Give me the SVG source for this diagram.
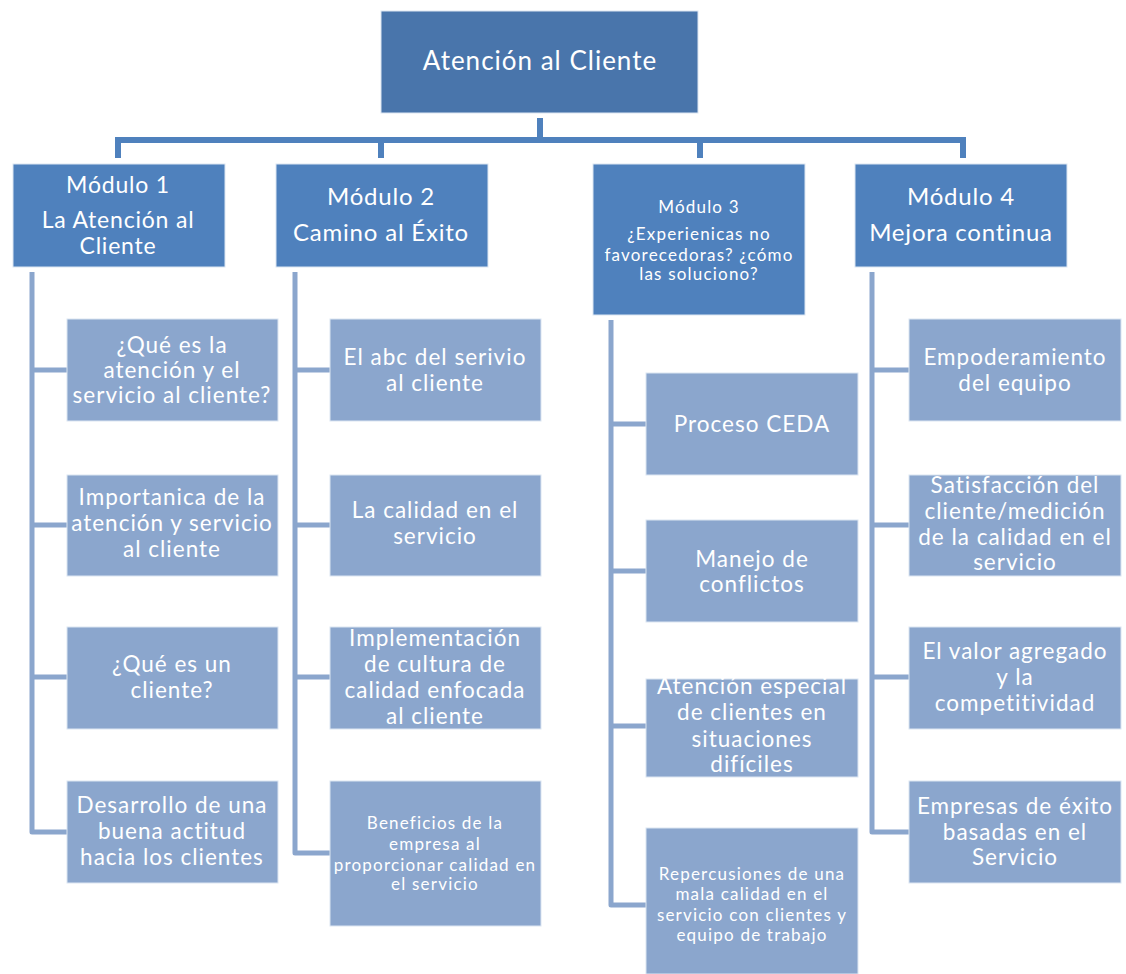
<svg xmlns="http://www.w3.org/2000/svg" width="1126" height="974" viewBox="0 0 1126 974">
<style>
.root{fill:#4975AB;stroke:#DCE6F2;stroke-width:1}
.mod{fill:#4F81BD;stroke:#DCE6F2;stroke-width:1}
.leaf{fill:#8BA6CD;stroke:#DCE6F2;stroke-width:1}
text{font-family:Lato,"Liberation Sans",sans-serif;fill:#FFFFFF;text-anchor:middle}
.t0{font-size:26px;letter-spacing:1px}
.tm{font-size:24px;letter-spacing:0.8px}
.tm1{font-size:23px;letter-spacing:0.8px}
.tm3{font-size:17px;letter-spacing:1.2px}
.tl{font-size:22.5px;letter-spacing:1px}
.ts{font-size:17px;letter-spacing:1.2px}
.c1{fill:none;stroke:#4F81BD;stroke-width:6}
.c2{fill:none;stroke:#8BA6CD;stroke-width:5;stroke-linejoin:round}
</style>
<rect width="1126" height="974" fill="#FFFFFF"/>
<g id="connectors">
<path class="c1" d="M540 118 V140 M118 158 V140 H963 V158 M381 140 V158 M700 140 V158"/>
<path class="c2" d="M32 272 V832 H67 M32 370 H67 M32 525 H67 M32 677 H67"/>
<path class="c2" d="M295 272 V853 H330 M295 370 H330 M295 525 H330 M295 677 H330"/>
<path class="c2" d="M611 320 V905 H646 M611 424 H646 M611 571 H646 M611 726 H646"/>
<path class="c2" d="M872 272 V832 H909 M872 370 H909 M872 525 H909 M872 677 H909"/>
</g>
<g id="root"><rect class="root" x="381" y="11" width="317" height="102"/><text class="t0" x="540" y="70">Atención al Cliente</text></g>
<g id="m1"><rect class="mod" x="13" y="164" width="212" height="103"/><text class="tm1" x="118" y="193">Módulo 1</text><text class="tm1" x="118" y="228">La Atención al</text><text class="tm1" x="118" y="254">Cliente</text></g>
<g id="m2"><rect class="mod" x="276" y="164" width="212" height="103"/><text class="tm" x="381" y="205">Módulo 2</text><text class="tm" x="381" y="241">Camino al Éxito</text></g>
<g id="m3"><rect class="mod" x="593" y="164" width="212" height="151"/><text class="tm3" x="699" y="213">Módulo 3</text><text class="tm3" x="699" y="240">¿Experienicas no</text><text class="tm3" x="699" y="261">favorecedoras? ¿cómo</text><text class="tm3" x="699" y="280">las soluciono?</text></g>
<g id="m4"><rect class="mod" x="855" y="164" width="212" height="103"/><text class="tm" x="961" y="205">Módulo 4</text><text class="tm" x="961" y="241">Mejora continua</text></g>

<g id="m1a"><rect class="leaf" x="67" y="319" width="211" height="102"/><text class="tl" x="172" y="353">¿Qué es la</text><text class="tl" x="172" y="378">atención y el</text><text class="tl" x="172" y="403">servicio al cliente?</text></g>
<g id="m1b"><rect class="leaf" x="67" y="475" width="211" height="101"/><text class="tl" x="172" y="505">Importanica de la</text><text class="tl" x="172" y="531">atención y servicio</text><text class="tl" x="172" y="557">al cliente</text></g>
<g id="m1c"><rect class="leaf" x="67" y="627" width="211" height="102"/><text class="tl" x="172" y="672">¿Qué es un</text><text class="tl" x="172" y="698">cliente?</text></g>
<g id="m1d"><rect class="leaf" x="67" y="781" width="211" height="102"/><text class="tl" x="172" y="813">Desarrollo de una</text><text class="tl" x="172" y="839">buena actitud</text><text class="tl" x="172" y="865">hacia los clientes</text></g>

<g id="m2a"><rect class="leaf" x="330" y="319" width="211" height="102"/><text class="tl" x="435" y="365">El abc del serivio</text><text class="tl" x="435" y="391">al cliente</text></g>
<g id="m2b"><rect class="leaf" x="330" y="475" width="211" height="101"/><text class="tl" x="435" y="518">La calidad en el</text><text class="tl" x="435" y="544">servicio</text></g>
<g id="m2c"><rect class="leaf" x="330" y="627" width="211" height="102"/><text class="tl" x="435" y="646">Implementación</text><text class="tl" x="435" y="672">de cultura de</text><text class="tl" x="435" y="698">calidad enfocada</text><text class="tl" x="435" y="724">al cliente</text></g>
<g id="m2d"><rect class="leaf" x="330" y="781" width="211" height="145"/><text class="ts" x="435" y="829">Beneficios de la</text><text class="ts" x="435" y="850">empresa al</text><text class="ts" x="435" y="871">proporcionar calidad en</text><text class="ts" x="435" y="890">el servicio</text></g>

<g id="m3a"><rect class="leaf" x="646" y="373" width="212" height="102"/><text class="tl" x="752" y="432">Proceso CEDA</text></g>
<g id="m3b"><rect class="leaf" x="646" y="520" width="212" height="102"/><text class="tl" x="752" y="567">Manejo de</text><text class="tl" x="752" y="592">conflictos</text></g>
<g id="m3c"><rect class="leaf" x="646" y="679" width="212" height="98"/><text class="tl" x="752" y="694">Atención especial</text><text class="tl" x="752" y="720">de clientes en</text><text class="tl" x="752" y="747">situaciones</text><text class="tl" x="752" y="772">difíciles</text></g>
<g id="m3d"><rect class="leaf" x="646" y="828" width="212" height="146"/><text class="ts" x="752" y="880">Repercusiones de una</text><text class="ts" x="752" y="900">mala calidad en el</text><text class="ts" x="752" y="921">servicio con clientes y</text><text class="ts" x="752" y="941">equipo de trabajo</text></g>

<g id="m4a"><rect class="leaf" x="909" y="319" width="212" height="102"/><text class="tl" x="1015" y="365">Empoderamiento</text><text class="tl" x="1015" y="391">del equipo</text></g>
<g id="m4b"><rect class="leaf" x="909" y="475" width="212" height="101"/><text class="tl" x="1015" y="493">Satisfacción del</text><text class="tl" x="1015" y="519">cliente/medición</text><text class="tl" x="1015" y="545">de la calidad en el</text><text class="tl" x="1015" y="570">servicio</text></g>
<g id="m4c"><rect class="leaf" x="909" y="627" width="212" height="102"/><text class="tl" x="1015" y="659">El valor agregado</text><text class="tl" x="1015" y="685">y la</text><text class="tl" x="1015" y="711">competitividad</text></g>
<g id="m4d"><rect class="leaf" x="909" y="781" width="212" height="102"/><text class="tl" x="1015" y="814">Empresas de éxito</text><text class="tl" x="1015" y="840">basadas en el</text><text class="tl" x="1015" y="865">Servicio</text></g>
</svg>
